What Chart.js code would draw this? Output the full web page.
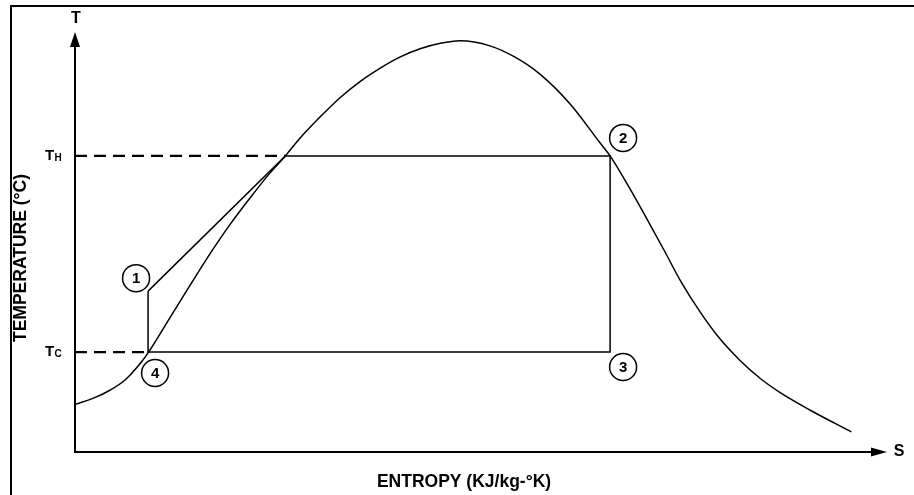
<!DOCTYPE html>
<html>
<head>
<meta charset="utf-8">
<title>T-S diagram</title>
<script src="https://cdn.jsdelivr.net/npm/chart.js@4/dist/chart.umd.min.js"></script>
<style>
    html,body{margin:0;padding:0;background:#fff;}
    canvas{display:block;}
</style>
</head>
<body>
<canvas id="tsChart" width="914" height="495"></canvas>
<script>
// saturation dome (entropy / temperature, arbitrary units)
const domeS=[0, 0.25, 0.43, 0.62, 0.80, 0.90, 1.17, 1.42, 1.69, 1.91, 2.16, 2.40, 2.59, 2.77, 3.02, 3.26, 3.51, 3.76, 4.00, 4.25, 4.50, 4.74,
             5.11, 5.42, 5.73, 6.10, 6.47, 6.59, 6.83, 7.08, 7.27, 7.45, 7.70, 7.94, 8.19, 8.44, 8.68, 9.05, 9.56];
const domeT=[11.3, 13.0, 14.7, 17.2, 21.0, 23.6, 32.0, 39.8, 48.0, 54.2, 60.6, 66.4, 70.5, 74.7, 79.8, 84.3, 88.2, 91.4, 94.0, 96.0, 97.3, 97.9,
             96.7, 94.0, 89.9, 82.8, 73.5, 70.5, 62.8, 54.2, 47.5, 41.0, 33.3, 27.0, 21.8, 17.5, 14.2, 10.0, 4.8];

// cycle: 1 -> saturated vapour line -> 2 -> 3 -> 4 -> 1
const cycleS=[0.90, 2.59, 6.59, 6.59, 0.90, 0.90];
const cycleT=[38.3, 70.5, 70.5, 23.8, 23.8, 38.3];
const TH=70.5, TC=23.8;

// numbered state points
const stateNames=['1', '2', '3', '4'];
const stateS=[0.90, 6.59, 6.59, 0.90];
const stateT=[38.3, 70.5, 23.8, 23.8];

const toPoints=(xs, ys)=>xs.map((x, i)=>({x: x, y: ys[i]}));
const BOLD='"Liberation Sans", Arial, sans-serif';

const diagramPlugin={
    id: 'diagram',
    beforeDraw(chart){
        const ctx=chart.ctx;
        ctx.save();
        ctx.fillStyle='#fff';
        ctx.fillRect(0, 0, chart.width, chart.height);
        // frame (left and top edges)
        ctx.strokeStyle='#000';
        ctx.lineWidth=2;
        ctx.beginPath();
        ctx.moveTo(11, chart.height);
        ctx.lineTo(11, 6);
        ctx.lineTo(chart.width, 6);
        ctx.stroke();
        ctx.restore();
    },
    afterDatasetsDraw(chart){
        const ctx=chart.ctx;
        const xs=chart.scales.x, ys=chart.scales.y;
        const x0=xs.getPixelForValue(0), y0=ys.getPixelForValue(0);
        const xEnd=xs.right, yEnd=ys.top;
        ctx.save();
        ctx.strokeStyle='#000';
        ctx.fillStyle='#000';
        ctx.lineWidth=2;
        ctx.beginPath();
        ctx.moveTo(x0, yEnd+12);
        ctx.lineTo(x0, y0);
        ctx.lineTo(xEnd-14, y0);
        ctx.stroke();
        // arrow heads
        ctx.beginPath();
        ctx.moveTo(x0, yEnd);
        ctx.lineTo(x0-5, yEnd+15);
        ctx.lineTo(x0+5, yEnd+15);
        ctx.closePath();
        ctx.fill();
        ctx.beginPath();
        ctx.moveTo(xEnd, y0);
        ctx.lineTo(xEnd-16, y0-4.5);
        ctx.lineTo(xEnd-16, y0+4.5);
        ctx.closePath();
        ctx.fill();

        // axis letters
        ctx.font='bold 16px '+BOLD;
        ctx.textAlign='center';
        ctx.textBaseline='middle';
        ctx.fillText('T', x0+1, yEnd-13);
        ctx.fillText('S', xEnd+12, y0);

        // axis titles
        ctx.font='bold 17.5px '+BOLD;
        ctx.fillText('ENTROPY (KJ/kg-°K)', 464, y0+30);
        ctx.save();
        ctx.translate(21, 258);
        ctx.rotate(-Math.PI/2);
        ctx.fillText('TEMPERATURE (°C)', 0, 0);
        ctx.restore();

        // T_H and T_C labels
        const tempLabel=(sub, t)=>{
            const y=ys.getPixelForValue(t);
            ctx.textAlign='left';
            ctx.font='bold 15px '+BOLD;
            ctx.fillText('T', 45, y);
            ctx.font='bold 10px '+BOLD;
            ctx.fillText(sub, 54.5, y+2);
        };
        tempLabel('H', TH);
        tempLabel('C', TC);

        // circled state numbers, offset from their points
        const offsets=[[-12, -13], [13, -18], [13, 15], [7, 21]];
        ctx.lineWidth=1.5;
        ctx.textAlign='center';
        ctx.font='bold 15px '+BOLD;
        stateNames.forEach((name, i)=>{
            const cx=xs.getPixelForValue(stateS[i])+offsets[i][0];
            const cy=ys.getPixelForValue(stateT[i])+offsets[i][1];
            ctx.beginPath();
            ctx.arc(cx, cy, 13.5, 0, Math.PI*2);
            ctx.fillStyle='#fff';
            ctx.fill();
            ctx.stroke();
            ctx.fillStyle='#000';
            ctx.fillText(name, cx, cy+1);
        });
        ctx.restore();
    }
};

const ctx=document.getElementById('tsChart').getContext('2d');
new Chart(ctx, {
    type: 'line',
    data: {
        datasets: [
            {
                label: 'Saturation dome',
                data: toPoints(domeS, domeT),
                borderColor: '#000',
                borderWidth: 1.5,
                pointRadius: 0,
                cubicInterpolationMode: 'monotone'
            },
            {
                label: 'Cycle',
                data: toPoints(cycleS, cycleT),
                borderColor: '#000',
                borderWidth: 1.5,
                pointRadius: 0,
                tension: 0
            },
            {
                label: 'TH',
                data: [{x: 0, y: TH}, {x: cycleS[1], y: TH}],
                borderColor: '#000',
                borderWidth: 2.2,
                borderDash: [12, 7],
                pointRadius: 0
            },
            {
                label: 'TC',
                data: [{x: 0, y: TC}, {x: cycleS[0], y: TC}],
                borderColor: '#000',
                borderWidth: 2.2,
                borderDash: [12, 7],
                pointRadius: 0
            }
        ]
    },
    options: {
        responsive: false,
        animation: false,
        devicePixelRatio: 1,
        layout: {padding: {left: 75, right: 27, top: 32, bottom: 43}},
        plugins: {
            legend: {display: false},
            tooltip: {enabled: false}
        },
        scales: {
            x: {type: 'linear', min: 0, max: 10, display: false},
            y: {min: 0, max: 100, display: false}
        }
    },
    plugins: [diagramPlugin]
});
</script>
</body>
</html>
